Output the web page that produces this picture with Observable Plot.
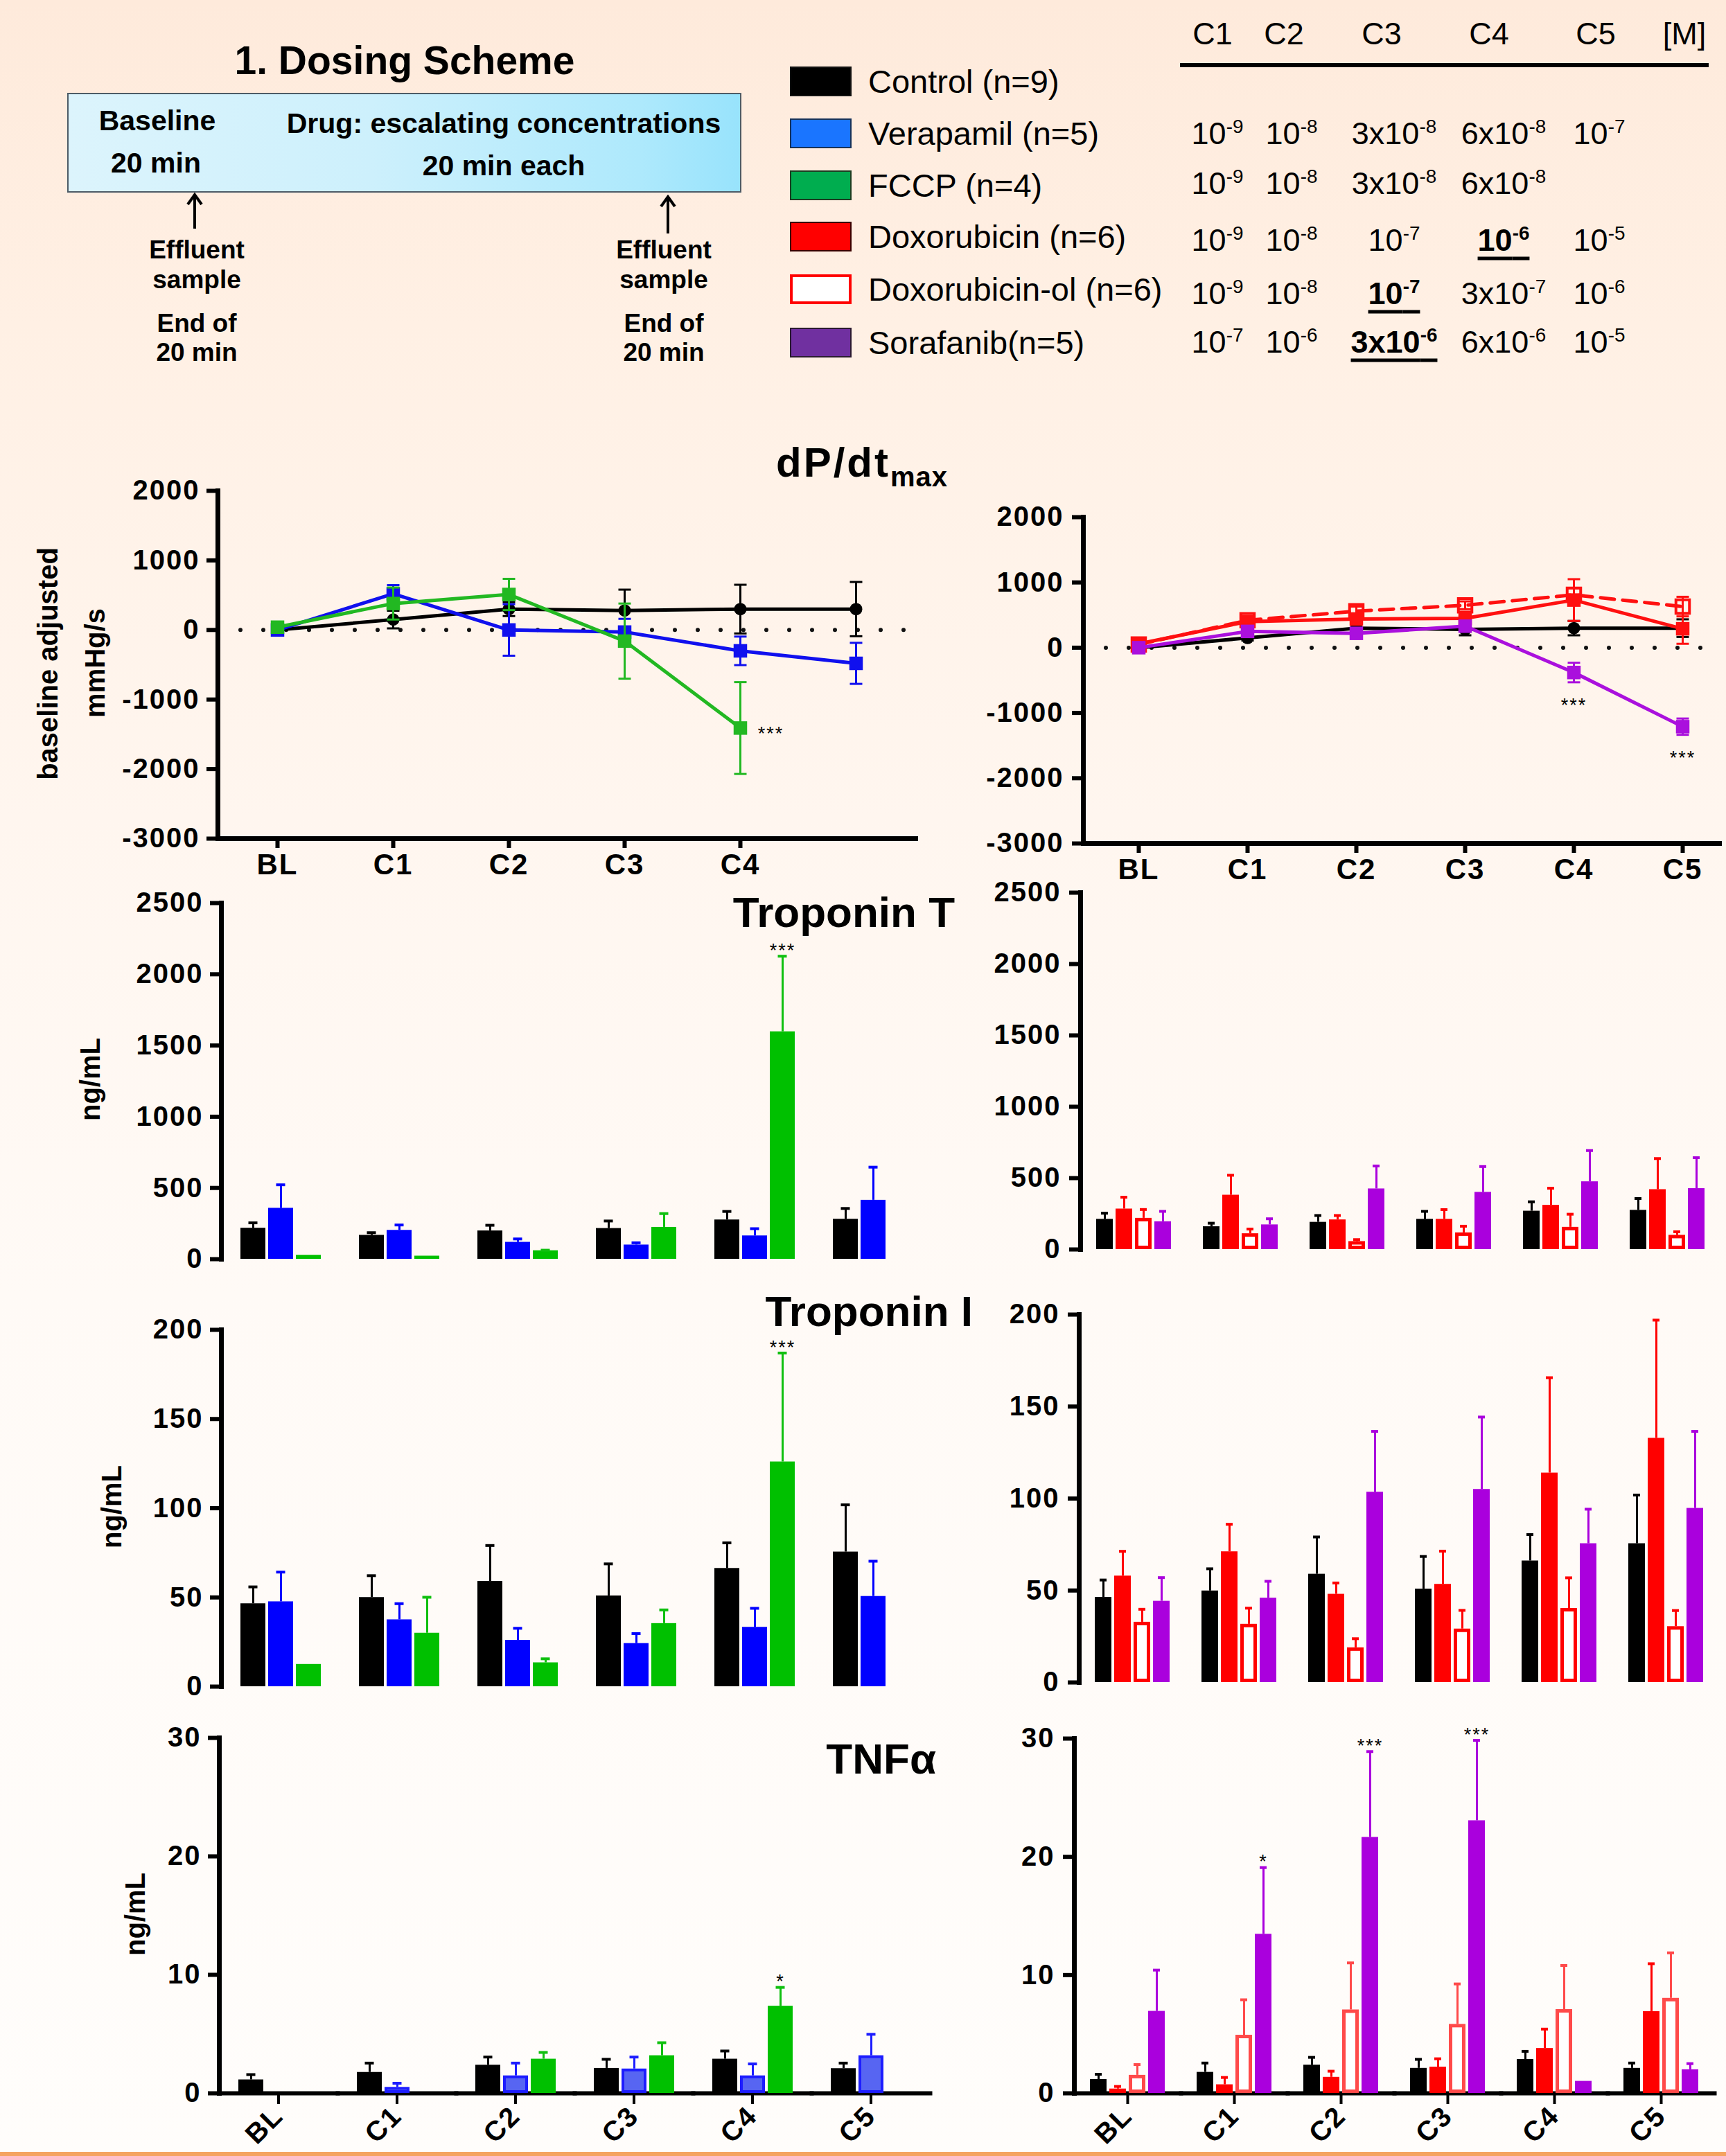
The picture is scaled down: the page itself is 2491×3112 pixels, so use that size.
<!DOCTYPE html>
<html>
<head>
<meta charset="utf-8">
<script src="https://cdn.jsdelivr.net/npm/d3@7"></script>
<script src="https://cdn.jsdelivr.net/npm/@observablehq/plot@0.6"></script>
<style>
html,body{margin:0;padding:0;}
#page{position:relative;width:2491px;height:3112px;overflow:hidden;
 background:linear-gradient(to bottom,#feeadb 0%,#fff0e4 15%,#fff6ef 38%,#fffaf6 60%,#fffdfb 100%);
 font-family:"Liberation Sans",Arial,Helvetica,sans-serif;color:#000;}
.abs{position:absolute;white-space:nowrap;line-height:1;}
.sup{position:relative;top:-0.57em;font-size:0.62em;}
</style>
</head>
<body>
<div id="page"></div>
<script>
// ================= DATA =================
const categories = ["BL","C1","C2","C3","C4","C5"];
const dpdtLeftTicks = ["BL","C1","C2","C3","C4"];
const dpdtTicks = [-3000,-2000,-1000,0,1000,2000];
const tntTicks = [0,500,1000,1500,2000,2500];
const tniTicks = [0,50,100,150,200];
const tnfTicks = [0,10,20,30];
const seriesLeft = ["Control","Verapamil","FCCP"];
const seriesRight = ["Control","Doxorubicin","Doxorubicin-ol","Sorafanib"];

// legend
const legendLabels = ["Control (n=9)","Verapamil (n=5)","FCCP (n=4)","Doxorubicin (n=6)","Doxorubicin-ol (n=6)","Sorafanib(n=5)"];
const legendFills = ["#000000","#1a75ff","#00ad4f","#ff0000","#ffffff","#7030a0"];
const legendBorders = ["#111111","#16325a","#1d3d22","#3a0000","#ff0000","#2a1a30"];

// concentration table
const concHeaders = ["C1","C2","C3","C4","C5","[M]"];
const concRows = [
  ["10^-9","10^-8","3x10^-8","6x10^-8","10^-7"],
  ["10^-9","10^-8","3x10^-8","6x10^-8",""],
  ["10^-9","10^-8","10^-7","10^-6","10^-5"],
  ["10^-9","10^-8","10^-7","3x10^-7","10^-6"],
  ["10^-7","10^-6","3x10^-6","6x10^-6","10^-5"]
];
const concBold = [[2,3],[3,2],[4,2]];

// dP/dt max (baseline adjusted, mmHg/s)
const dpControlL = [0,150,300,280,300,300];
const dpControlLErr = [0,127,100,300,350,390];
const dpVerapamil = [0,520,0,-30,-300,-480];
const dpVerapamilErr = [20,125,370,190,205,295];
const dpFCCP = [40,380,510,-160,-1410,null];
const dpFCCPErr = [0,230,225,540,660,null];

const dpControlR = [0,150,300,280,300,300];
const dpControlRErr = [0,40,60,90,110,135];
const dpDox = [60,400,440,450,730,290];
const dpDoxErr = [20,60,60,60,320,230];
const dpDoxol = [50,420,560,650,810,630];
const dpDoxolErr = [20,50,70,60,100,150];
const dpSora = [0,250,220,330,-380,-1210];
const dpSoraErr = [20,40,40,60,150,125];

// Troponin T (ng/mL)
const tntControlL = [218,168,199,216,276,281];
const tntControlLErr = [37,18,39,52,59,75];
const tntVerapamil = [358,203,119,100,164,414];
const tntVerapamilErr = [164,37,23,15,50,232];
const tntFCCP = [28,22,60,224,1597,null];
const tntFCCPErr = [0,0,3,96,530,null];

const tntControlR = [212,160,191,212,269,275];
const tntControlRErr = [42,24,47,55,65,82];
const tntDox = [284,381,208,212,310,420];
const tntDoxErr = [82,139,30,67,119,217];
const tntDoxol = [219,111,56,117,156,100];
const tntDoxolErr = [61,32,13,46,91,24];
const tntSora = [195,173,425,401,475,427];
const tntSoraErr = [72,42,160,180,218,216];

// Troponin I (ng/mL)
const tniControlL = [46.5,50,59,50.9,66.3,75.5];
const tniControlLErr = [9.4,12.2,20.1,17.9,14.3,26.4];
const tniVerapamil = [47.6,37.5,26,24.2,33.3,50.6];
const tniVerapamilErr = [16.6,9,6.7,5.5,10.6,19.7];
const tniFCCP = [12.5,30,13.4,35.4,126,null];
const tniFCCPErr = [0,20.1,2.2,7.6,61,null];

const tniControlR = [46.3,49.8,58.9,50.8,66.1,75.5];
const tniControlRErr = [9.4,12,20.2,17.7,14.3,26.4];
const tniDox = [57.9,71.1,48,53.4,113.9,132.8];
const tniDoxErr = [13.4,14.9,6.1,18,51.8,64.2];
const tniDoxol = [32.8,31.7,18.9,29.1,40.3,30.4];
const tniDoxolErr = [7,8.7,4.9,10.1,16.6,8.7];
const tniSora = [44.2,45.9,103.5,105,75.5,94.7];
const tniSoraErr = [12.8,9.1,33,39.3,18.7,41.8];

// TNF alpha (ng/mL)
const tnfControlL = [1.14,1.77,2.38,2.11,2.89,2.09];
const tnfControlLErr = [0.44,0.78,0.68,0.76,0.68,0.46];
const tnfVerapamil = [null,0.51,1.48,2.06,1.48,3.18];
const tnfVerapamilErr = [null,0.34,1.07,1.0,1.0,1.8];
const tnfFCCP = [null,null,2.89,3.18,7.36,null];
const tnfFCCPErr = [null,null,0.56,1.09,1.58,null];

const tnfControlR = [1.17,1.78,2.39,2.12,2.87,2.12];
const tnfControlRErr = [0.44,0.78,0.65,0.75,0.68,0.44];
const tnfDox = [0.37,0.73,1.36,2.22,3.8,6.92];
const tnfDoxErr = [0.21,0.61,0.51,0.7,1.63,4.04];
const tnfDoxol = [1.53,4.92,7.06,5.84,7.09,8.04];
const tnfDoxolErr = [0.9,2.99,3.97,3.41,3.72,3.84];
const tnfSora = [6.94,13.46,21.65,23.06,1.02,2.0];
const tnfSoraErr = [3.48,5.63,7.25,6.79,0,0.51];

// significance marks
const sigDpLeft = [{cat:"C4", series:"FCCP", label:"***", side:"right"}];
const sigDpRight = [{cat:"C4", series:"Sorafanib", label:"***", side:"below"},{cat:"C5", series:"Sorafanib", label:"***", side:"below"}];
const sigTntLeft = [{cat:"C4", series:"FCCP", label:"***"}];
const sigTniLeft = [{cat:"C4", series:"FCCP", label:"***"}];
const sigTnfLeft = [{cat:"C4", series:"FCCP", label:"*"}];
const sigTnfRight = [{cat:"C1", series:"Sorafanib", label:"*"},{cat:"C2", series:"Sorafanib", label:"***"},{cat:"C3", series:"Sorafanib", label:"***"}];

// ================= HELPERS =================
const page = document.getElementById("page");
const FONT = "'Liberation Sans', Arial, Helvetica, sans-serif";
const plainFormat = d => String(d);
function addText(html, css) {
  const d = document.createElement("div");
  d.className = "abs";
  d.innerHTML = html;
  Object.assign(d.style, css);
  page.appendChild(d);
  return d;
}
function fmtExp(s) {
  return s.replace(/\^(-?\d+)/g, '<span class="sup">$1</span>');
}
function rows(series, values, errs) {
  const out = [];
  categories.forEach((cat, i) => {
    if (values[i] != null) out.push({cat, series, value: values[i], err: (errs && errs[i]) || 0});
  });
  return out;
}
function mount(svg, left, top) {
  const d = document.createElement("div");
  d.style.cssText = `position:absolute;left:${left}px;top:${top}px;`;
  d.appendChild(svg);
  page.appendChild(d);
}
const svgStyle = {background:"transparent", overflow:"visible", fontFamily:FONT, letterSpacing:"2px", color:"#000"};
// horizontal-bar symbol used for error-bar caps on the point scale
const capSymbol = {draw(ctx, size) { const h = Math.sqrt(size / Math.PI); ctx.moveTo(-h, 0); ctx.lineTo(h, 0); }};

// ================= HEADER =================
addText("1. Dosing Scheme", {left:"584px", top:"59px", fontSize:"57px", fontWeight:"bold", transform:"translateX(-50%)"});
const box = document.createElement("div");
box.style.cssText = "position:absolute;left:97px;top:134px;width:973px;height:144px;box-sizing:border-box;border:2px solid #4d5b66;background:linear-gradient(to right,#dcf4fc 0%,#cdf0fc 45%,#aee9fc 85%,#98e3fc 100%);";
page.appendChild(box);
addText("Baseline", {left:"227px", top:"154px", fontSize:"41px", fontWeight:"bold", transform:"translateX(-50%)"});
addText("20 min", {left:"225px", top:"215px", fontSize:"41px", fontWeight:"bold", transform:"translateX(-50%)"});
addText("Drug: escalating concentrations", {left:"727px", top:"158px", fontSize:"41px", fontWeight:"bold", transform:"translateX(-50%)"});
addText("20 min each", {left:"727px", top:"219px", fontSize:"41px", fontWeight:"bold", transform:"translateX(-50%)"});
function arrow(x, top, h) {
  const d = document.createElement("div");
  d.style.cssText = `position:absolute;left:${x-14}px;top:${top}px;width:28px;height:${h}px;`;
  d.innerHTML = `<svg width="28" height="${h}" viewBox="0 0 28 ${h}"><line x1="14" y1="3" x2="14" y2="${h}" stroke="#000" stroke-width="4"/><polyline points="4,17 14,3 24,17" fill="none" stroke="#000" stroke-width="4" stroke-linejoin="miter"/></svg>`;
  page.appendChild(d);
}
arrow(281, 278, 52);
arrow(964, 281, 56);
[[284],[958]].forEach(([cx]) => {
  [["Effluent",342],["sample",385],["End of",448],["20 min",490]].forEach(([t, y]) => {
    addText(t, {left:cx+"px", top:y+"px", fontSize:"37px", fontWeight:"bold", transform:"translateX(-50%)"});
  });
});

// legend
const legendY = [117,192,267,341,417,494];
legendLabels.forEach((lab, i) => {
  const sq = document.createElement("div");
  sq.style.cssText = `position:absolute;left:1140px;top:${legendY[i]-21.5}px;width:89px;height:43px;box-sizing:border-box;background:${legendFills[i]};border:${i===4?4:2}px solid ${legendBorders[i]};`;
  page.appendChild(sq);
  addText(lab, {left:"1253px", top:legendY[i]+"px", fontSize:"47px", transform:"translateY(-50%)"});
});

// concentration table
const headX = [1750,1853,1994,2149,2303,2431];
concHeaders.forEach((h, i) => addText(h, {left:headX[i]+"px", top:"48px", fontSize:"45px", transform:"translate(-50%,-50%)"}));
const rule = document.createElement("div");
rule.style.cssText = "position:absolute;left:1703px;top:91px;width:763px;height:6px;background:#000;";
page.appendChild(rule);
const colX = [1757,1864,2012,2170,2308];
const rowY = [192,264,346,423,493];
concRows.forEach((r, ri) => r.forEach((c, ci) => {
  if (!c) return;
  const bold = concBold.some(([a,b]) => a===ri && b===ci);
  const css = {left:colX[ci]+"px", top:rowY[ri]+"px", fontSize:"45px", transform:"translate(-50%,-50%)"};
  if (bold) Object.assign(css, {fontWeight:"bold", textDecoration:"underline", textDecorationThickness:"5px", textUnderlineOffset:"9px"});
  addText(fmtExp(c), css);
}));

// ================= TITLES =================
addText('dP/dt<span style="font-size:40px;position:relative;top:14px;letter-spacing:1px">max</span>', {left:"1120px", top:"638px", fontSize:"60px", fontWeight:"bold", letterSpacing:"3px"});
addText("Troponin T", {right:(2491-1378)+"px", top:"1286px", fontSize:"62px", fontWeight:"bold"});
addText("Troponin I", {right:(2491-1404)+"px", top:"1862px", fontSize:"62px", fontWeight:"bold"});
addText("TNFα", {right:(2491-1351)+"px", top:"2508px", fontSize:"62px", fontWeight:"bold"});
function yTitle(t, cx, cy) {
  addText(t, {left:cx+"px", top:cy+"px", fontSize:"40px", fontWeight:"bold", transform:"translate(-50%,-50%) rotate(-90deg)"});
}
yTitle("baseline adjusted", 69, 958);
yTitle("mmHg/s", 137, 957);
yTitle("ng/mL", 130, 1558);
yTitle("ng/mL", 161, 2175);
yTitle("ng/mL", 195, 2763);

// ================= LINE PANELS =================
function linePanel(o) {
  const marks = [
    Plot.ruleY([0], {stroke:"#111", strokeWidth:6, strokeLinecap:"round", strokeDasharray:"0 33"}),
    Plot.frame({anchor:"left", stroke:"#000", strokeWidth:7}),
    Plot.frame({anchor:"bottom", stroke:"#000", strokeWidth:7}),
    Plot.axisY(dpdtTicks, {tickSize:16, tickPadding:o.tickPadding, tickFormat:plainFormat, strokeWidth:6, fontSize:40, fontWeight:"bold", label:null}),
    Plot.axisX(o.xTicks, {tickSize:14, tickPadding:8, strokeWidth:6, fontSize:42, fontWeight:"bold", label:null})
  ];
  const all = [];
  for (const g of o.groups) {
    const r = rows(g.series, g.values, g.errs);
    all.push(...r);
    const e = r.filter(d => d.err > 0);
    marks.push(Plot.line(r, {x:"cat", y:"value", stroke:g.color, strokeWidth:5, strokeDasharray:g.dash}));
    marks.push(Plot.ruleX(e, {x:"cat", y1:d => d.value - d.err, y2:d => d.value + d.err, stroke:g.color, strokeWidth:3}));
    marks.push(Plot.dot(e, {x:"cat", y:d => d.value + d.err, symbol:capSymbol, r:9, fill:"none", stroke:g.color, strokeWidth:3}));
    marks.push(Plot.dot(e, {x:"cat", y:d => d.value - d.err, symbol:capSymbol, r:9, fill:"none", stroke:g.color, strokeWidth:3}));
    marks.push(Plot.dot(r, {x:"cat", y:"value", symbol:g.symbol, r:g.r, fill:g.fill, stroke:g.stroke || "none", strokeWidth:g.sw || 0}));
  }
  const sig = o.sig.map(s => {
    const d = all.find(a => a.cat === s.cat && a.series === s.series);
    return {...s, y: s.side === "below" ? d.value - d.err : d.value};
  });
  marks.push(Plot.text(sig.filter(s => s.side === "right"), {x:"cat", y:"y", text:"label", fontSize:27, dx:44, dy:8, lineAnchor:"middle"}));
  marks.push(Plot.text(sig.filter(s => s.side === "below"), {x:"cat", y:"y", text:"label", fontSize:27, dy:34, lineAnchor:"middle"}));
  return Plot.plot({
    width:o.width, height:o.height,
    marginLeft:o.marginLeft, marginRight:o.marginRight, marginTop:o.marginTop, marginBottom:o.marginBottom,
    x:{type:"point", domain:categories, padding:0.5, insetRight:o.insetRight || 0},
    y:{domain:[-3000,2000]},
    style:svgStyle,
    marks
  });
}

mount(linePanel({
  width:1400, height:640, marginLeft:314, marginRight:79, marginTop:68, marginBottom:70, tickPadding:10,
  xTicks:dpdtLeftTicks, sig:sigDpLeft,
  groups:[
    {series:"Control", values:dpControlL, errs:dpControlLErr, color:"#000000", symbol:"circle", r:9, fill:"#000"},
    {series:"Verapamil", values:dpVerapamil, errs:dpVerapamilErr, color:"#1010ee", symbol:"square", r:11, fill:"#1010ee"},
    {series:"FCCP", values:dpFCCP, errs:dpFCCPErr, color:"#22b822", symbol:"square", r:11, fill:"#22b822"}
  ]
}), 0, 640);

mount(linePanel({
  width:1111, height:640, marginLeft:183, marginRight:10, marginTop:106, marginBottom:63, tickPadding:12, insetRight:-26,
  xTicks:categories, sig:sigDpRight,
  groups:[
    {series:"Control", values:dpControlR, errs:dpControlRErr, color:"#000000", symbol:"circle", r:9, fill:"#000"},
    {series:"Doxorubicin-ol", values:dpDoxol, errs:dpDoxolErr, color:"#ff1010", symbol:"square", r:11, fill:"none", stroke:"#ff1010", sw:4, dash:"20 12"},
    {series:"Doxorubicin", values:dpDox, errs:dpDoxErr, color:"#ff1010", symbol:"square", r:11, fill:"#ff1010"},
    {series:"Sorafanib", values:dpSora, errs:dpSoraErr, color:"#aa10dd", symbol:"square", r:11, fill:"#aa10dd"}
  ]
}), 1380, 640);

// ================= BAR PANELS =================
function barPanel(o) {
  const marks = [];
  if (o.baseline) marks.push(Plot.frame({anchor:"bottom", stroke:"#000", strokeWidth:6}));
  marks.push(Plot.frame({anchor:"left", stroke:"#000", strokeWidth:7, facetAnchor:"left"}));
  marks.push(Plot.axisY(o.yTicks, {tickSize:16, tickPadding:o.tickPadding || 10, tickFormat:plainFormat, strokeWidth:6, fontSize:40, fontWeight:"bold", label:null}));
  if (o.xAxis) marks.push(Plot.axisFx({anchor:"bottom", tickSize:16, strokeWidth:4, tickPadding:10, tickRotate:-45, fontSize:40, fontWeight:"bold", label:null}));
  const all = [];
  for (const g of o.groups) {
    const r = rows(g.series, g.values, g.errs);
    all.push(...r);
    const e = r.filter(d => d.err > 0);
    marks.push(Plot.barY(r, {fx:"cat", x:"series", y:"value", fill:g.fill, stroke:g.stroke || "none", strokeWidth:g.sw || 0, inset:g.sw ? g.sw / 2 : 0}));
    marks.push(Plot.ruleX(e, {fx:"cat", x:"series", y1:"value", y2:d => d.value + d.err, stroke:g.err, strokeWidth:3}));
    marks.push(Plot.tickY(e, {fx:"cat", x:"series", y:d => d.value + d.err, stroke:g.err, strokeWidth:4, insetLeft:o.cap, insetRight:o.cap}));
  }
  const sig = (o.sig || []).map(s => {
    const d = all.find(a => a.cat === s.cat && a.series === s.series);
    return {...s, y: d.value + d.err};
  });
  marks.push(Plot.text(sig, {fx:"cat", x:"series", y:"y", text:"label", fontSize:27, dy:-8, lineAnchor:"middle"}));
  return Plot.plot({
    width:o.width, height:o.height,
    marginLeft:o.marginLeft, marginRight:o.marginRight, marginTop:o.marginTop, marginBottom:o.marginBottom,
    fx:o.xAxis ? {domain:categories, paddingInner:0, paddingOuter:0} : {domain:categories, paddingInner:0, paddingOuter:0, axis:null},
    x:{domain:o.series, paddingInner:o.pi, paddingOuter:o.po, axis:null},
    y:{domain:o.yDomain},
    style:svgStyle,
    marks
  });
}

const leftGeom = {width:1420, marginLeft:319, marginRight:1420-319-1026, series:seriesLeft, pi:0.1, po:0.6875, cap:11.5};
const rightGeom = {width:1111, series:seriesRight, pi:0.126, po:0.755, cap:7, tickPadding:12};

function leftGroups(c, ce, v, ve, f, fe, vStyle) {
  return [
    {series:"Control", values:c, errs:ce, fill:"#000000", err:"#000000"},
    Object.assign({series:"Verapamil", values:v, errs:ve, fill:"#0000ff", err:"#0000ff"}, vStyle || {}),
    {series:"FCCP", values:f, errs:fe, fill:"#00c000", err:"#10c010"}
  ];
}
function rightGroups(c, ce, d, de, o, oe, s, se, openColor) {
  return [
    {series:"Control", values:c, errs:ce, fill:"#000000", err:"#000000"},
    {series:"Doxorubicin", values:d, errs:de, fill:"#ff0000", err:"#ff0000"},
    {series:"Doxorubicin-ol", values:o, errs:oe, fill:"#ffffff", stroke:openColor, sw:5, err:openColor},
    {series:"Sorafanib", values:s, errs:se, fill:"#aa00dd", err:"#aa00dd"}
  ];
}

// Troponin T
mount(barPanel(Object.assign({}, leftGeom, {height:600, marginTop:43, marginBottom:43, yDomain:[0,2500], yTicks:tntTicks, sig:sigTntLeft,
  groups:leftGroups(tntControlL, tntControlLErr, tntVerapamil, tntVerapamilErr, tntFCCP, tntFCCPErr)})), 0, 1260);
mount(barPanel(Object.assign({}, rightGeom, {height:600, marginLeft:179, marginRight:1111-179-924, marginTop:28, marginBottom:57, yDomain:[0,2500], yTicks:tntTicks,
  groups:rightGroups(tntControlR, tntControlRErr, tntDox, tntDoxErr, tntDoxol, tntDoxolErr, tntSora, tntSoraErr, "#ff0000")})), 1380, 1260);

// Troponin I
mount(barPanel(Object.assign({}, leftGeom, {height:600, marginTop:59, marginBottom:26, yDomain:[0,200], yTicks:tniTicks, sig:sigTniLeft,
  groups:leftGroups(tniControlL, tniControlLErr, tniVerapamil, tniVerapamilErr, tniFCCP, tniFCCPErr)})), 0, 1860);
mount(barPanel(Object.assign({}, rightGeom, {height:600, marginLeft:177, marginRight:1111-177-924, marginTop:37, marginBottom:32, yDomain:[0,200], yTicks:tniTicks,
  groups:rightGroups(tniControlR, tniControlRErr, tniDox, tniDoxErr, tniDoxol, tniDoxolErr, tniSora, tniSoraErr, "#ff0000")})), 1380, 1860);

// TNF alpha
mount(barPanel(Object.assign({}, leftGeom, {height:652, marginLeft:316, marginRight:1420-316-1026, marginTop:48, marginBottom:91, yDomain:[0,30], yTicks:tnfTicks, sig:sigTnfLeft, baseline:true, xAxis:true,
  groups:leftGroups(tnfControlL, tnfControlLErr, tnfVerapamil, tnfVerapamilErr, tnfFCCP, tnfFCCPErr, {fill:"#5765f2", stroke:"#1d1dff", sw:4, err:"#1d1dff"})})), 0, 2460);
mount(barPanel(Object.assign({}, rightGeom, {height:652, marginLeft:170, marginRight:1111-170-924, marginTop:49, marginBottom:91, yDomain:[0,30], yTicks:tnfTicks, sig:sigTnfRight, baseline:true, xAxis:true,
  groups:rightGroups(tnfControlR, tnfControlRErr, tnfDox, tnfDoxErr, tnfDoxol, tnfDoxolErr, tnfSora, tnfSoraErr, "#ff4a4a")})), 1380, 2460);

// bottom accent line
const acc = document.createElement("div");
acc.style.cssText = "position:absolute;left:0;top:3106px;width:2491px;height:6px;background:#f5a35f;";
page.appendChild(acc);
</script>
</body>
</html>
